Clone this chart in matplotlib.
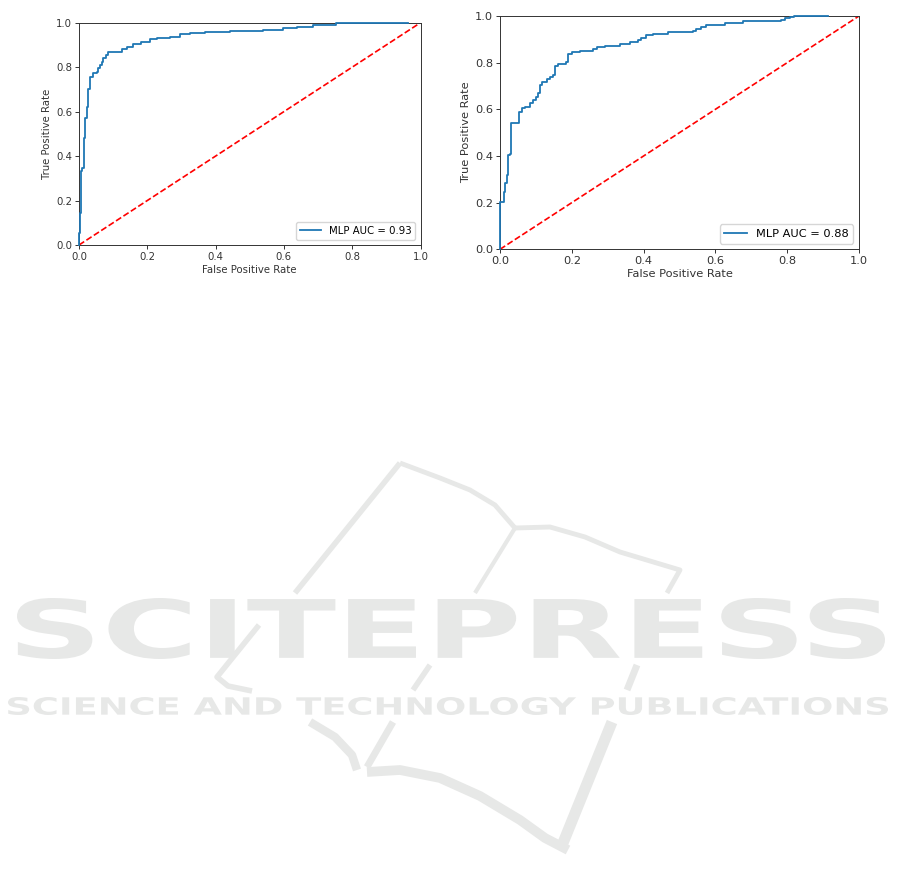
import matplotlib
matplotlib.use("Agg")
import matplotlib.pyplot as plt
from matplotlib.textpath import TextPath
from matplotlib.font_manager import FontProperties
from matplotlib.patches import PathPatch
from matplotlib.transforms import Affine2D

# ROC curve 1: rise at fpr to tpr
fpr1 = [0.0, 0.0, 0.003, 0.005, 0.010, 0.015, 0.018, 0.024, 0.027, 0.032, 0.042,
        0.052, 0.057, 0.061, 0.066, 0.071, 0.079, 0.086, 0.110, 0.125, 0.140,
        0.159, 0.183, 0.208, 0.227, 0.266, 0.296, 0.325, 0.369, 0.442, 0.540,
        0.598, 0.637, 0.686, 0.754, 0.769, 0.964]
tpr1 = [0.0, 0.054, 0.144, 0.331, 0.346, 0.480, 0.570, 0.620, 0.700, 0.757, 0.772,
        0.780, 0.795, 0.810, 0.825, 0.840, 0.855, 0.870, 0.870, 0.880, 0.892,
        0.903, 0.915, 0.925, 0.930, 0.937, 0.948, 0.952, 0.960, 0.964, 0.967,
        0.975, 0.982, 0.990, 0.997, 1.0, 1.0]

# ROC curve 2
fpr2 = [0.0, 0.0, 0.011, 0.014, 0.020, 0.023, 0.028, 0.031, 0.032, 0.053, 0.060,
        0.070, 0.083, 0.093, 0.100, 0.107, 0.111, 0.116, 0.130, 0.139, 0.148,
        0.153, 0.162, 0.184, 0.190, 0.200, 0.223, 0.260, 0.269, 0.292, 0.334,
        0.362, 0.385, 0.394, 0.408, 0.427, 0.468, 0.538, 0.547, 0.561, 0.575,
        0.626, 0.677, 0.784, 0.793, 0.807, 0.820, 0.914]
tpr2 = [0.0, 0.204, 0.247, 0.283, 0.319, 0.404, 0.410, 0.440, 0.540, 0.590, 0.604,
        0.611, 0.626, 0.640, 0.654, 0.669, 0.704, 0.719, 0.729, 0.737, 0.747,
        0.787, 0.794, 0.804, 0.837, 0.844, 0.850, 0.859, 0.866, 0.873, 0.879,
        0.887, 0.897, 0.907, 0.919, 0.924, 0.930, 0.936, 0.943, 0.954, 0.963,
        0.971, 0.977, 0.983, 0.990, 0.997, 0.998, 0.998]

labels = ["MLP AUC = 0.93", "MLP AUC = 0.88"]
ticks = [0.0, 0.2, 0.4, 0.6, 0.8, 1.0]

W, H = 901, 890
fig = plt.figure(figsize=(W / 100, H / 100), dpi=100)

# watermark in the background
wm = "#e7e8e7"

def px(x, y):
    return x / W, 1 - y / H

def stretched_text(s, box, weight="bold"):
    x0, y0, x1, y1 = box
    tp = TextPath((0, 0), s, size=50, prop=FontProperties(family="DejaVu Sans", weight=weight))
    ext = tp.get_extents()
    sx = (x1 - x0) / W / ext.width
    sy = (y1 - y0) / H / ext.height
    tr = Affine2D().translate(-ext.x0, -ext.y0).scale(sx, sy).translate(x0 / W, 1 - y1 / H)
    fig.patches.append(PathPatch(tr.transform_path(tp), fc=wm, ec="none",
                                 transform=fig.transFigure, figure=fig))

stretched_text("SCITEPRESS", (17, 598, 885, 659))
stretched_text("SCIENCE AND TECHNOLOGY PUBLICATIONS", (8, 697, 888, 715))

strokes = [
    ([(295, 593), (400, 463)], 4),
    ([(400, 463), (440, 478), (470, 490), (495, 505), (515, 528)], 3.5),
    ([(515, 528), (550, 527), (585, 537), (620, 552), (680, 570), (667, 593)], 3.5),
    ([(515, 528), (475, 593)], 3),
    ([(259, 625), (217, 677), (228, 686), (252, 691)], 4),
    ([(445, 644), (440, 653)], 3),
    ([(430, 665), (413, 690)], 4),
    ([(637, 665), (627, 690)], 5),
    ([(310, 722), (335, 737), (352, 755), (357, 770)], 6),
    ([(393, 722), (367, 767)], 5),
    ([(367, 772), (400, 770), (440, 778), (480, 796), (520, 820), (545, 838), (568, 850)], 7),
    ([(612, 722), (563, 843)], 8),
]
for st, lw in strokes:
    xs = [px(a, b)[0] for a, b in st]
    ys = [px(a, b)[1] for a, b in st]
    fig.add_artist(plt.Line2D(xs, ys, color=wm, lw=lw, transform=fig.transFigure,
                              solid_capstyle="butt", zorder=0))

# the two ROC panels
ax1 = fig.add_axes([79 / W, 1 - 245 / H, 341.5 / W, 222.3 / H])
ax2 = fig.add_axes([500 / W, 1 - 249.3 / H, 359 / W, 233.3 / H])

for ax, fpr, tpr, lab, fs in [(ax1, fpr1, tpr1, labels[0], 7.3),
                              (ax2, fpr2, tpr2, labels[1], 8.2)]:
    ax.plot(fpr, tpr, drawstyle="steps-post", color="#1f77b4", lw=1.3, label=lab,
            clip_on=False, zorder=3)
    ax.plot([0, 1], [0, 1], "r--", lw=1.2)
    ax.set_xlim(0, 1)
    ax.set_ylim(0, 1)
    ax.set_xticks(ticks)
    ax.set_yticks(ticks)
    ax.tick_params(labelsize=fs, length=3, width=0.7, pad=2, colors="#333333")
    ax.set_xlabel("False Positive Rate", fontsize=fs, labelpad=2, color="#333333")
    ax.set_ylabel("True Positive Rate", fontsize=fs, labelpad=3, color="#333333")
    ax.legend(loc="lower right", fontsize=fs, handlelength=2.0)
    for sp in ax.spines.values():
        sp.set_linewidth(0.7)
        sp.set_color("#333333")

fig.savefig("out.png", dpi=100)
